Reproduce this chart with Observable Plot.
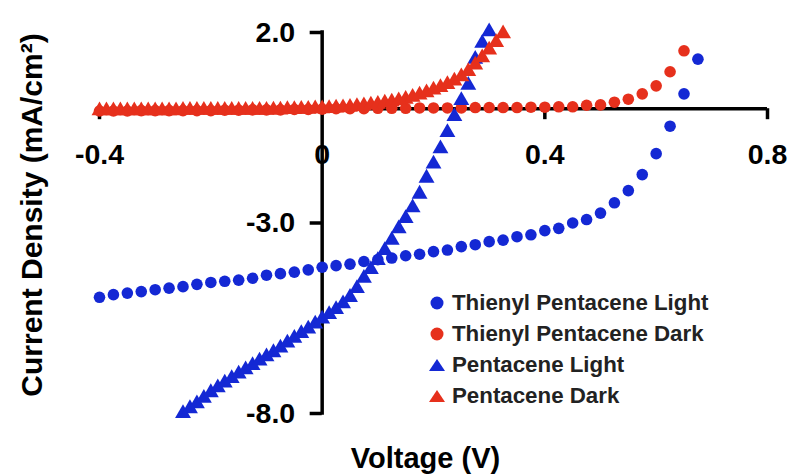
<!DOCTYPE html>
<html><head><meta charset="utf-8">
<script src="https://cdn.jsdelivr.net/npm/d3@7"></script>
<script src="https://cdn.jsdelivr.net/npm/@observablehq/plot@0.6"></script>
<style>
body{margin:0;background:#fff;font-family:"Liberation Sans",Arial,sans-serif;}
#wrap{position:relative;width:788px;height:474px;}
#legend{position:absolute;left:429px;top:287px;font-weight:bold;font-size:22.3px;color:#222;}
.row{display:flex;align-items:center;height:31px;}
.row svg{width:16px;height:16px;margin-right:7px;flex:none}
</style></head><body><div id="wrap"><div id="legend"></div></div>
<script>
// Voltage samples for the circle series (Thienyl Pentacene)
const circleV = [-0.4,-0.375,-0.35,-0.325,-0.3,-0.275,-0.25,-0.225,-0.2,-0.175,-0.15,-0.125,-0.1,-0.075,-0.05,-0.025,0,0.025,0.05,0.075,0.1,0.125,0.15,0.175,0.2,0.225,0.25,0.275,0.3,0.325,0.35,0.375,0.4,0.425,0.45,0.475,0.5,0.525,0.55,0.575,0.6,0.625,0.65,0.675];
const thienylLight = [-4.95,-4.88,-4.84,-4.80,-4.75,-4.71,-4.67,-4.61,-4.56,-4.53,-4.50,-4.45,-4.37,-4.33,-4.29,-4.23,-4.16,-4.12,-4.08,-4.01,-3.96,-3.92,-3.86,-3.82,-3.75,-3.71,-3.62,-3.57,-3.49,-3.45,-3.36,-3.31,-3.20,-3.14,-3.00,-2.91,-2.74,-2.47,-2.15,-1.73,-1.18,-0.46,0.39,1.30];
const thienylDark = [-0.06,-0.06,-0.06,-0.05,-0.05,-0.05,-0.05,-0.05,-0.05,-0.04,-0.04,-0.03,-0.03,-0.03,-0.02,-0.02,-0.01,0,0,0,0.01,0.01,0.01,0.02,0.02,0.02,0.02,0.03,0.03,0.03,0.03,0.04,0.04,0.05,0.05,0.09,0.10,0.17,0.25,0.39,0.60,0.97,1.52];

// Pentacene Light (blue triangles)
const pentLightV = [-0.25,-0.2375,-0.225,-0.2125,-0.2,-0.1875,-0.175,-0.1625,-0.15,-0.1375,-0.125,-0.1125,-0.1,-0.0875,-0.075,-0.0625,-0.05,-0.0375,-0.025,-0.0125,0,0.0125,0.025,0.0375,0.05,0.0625,0.075,0.0875,0.1,0.1125,0.125,0.1375,0.15,0.1625,0.175,0.1875,0.2,0.2125,0.225,0.2375,0.25,0.2625,0.275,0.2875,0.3];
const pentLight = [-8.00,-7.87,-7.74,-7.60,-7.45,-7.32,-7.20,-7.08,-6.96,-6.85,-6.74,-6.62,-6.51,-6.40,-6.28,-6.15,-6.02,-5.90,-5.78,-5.65,-5.52,-5.40,-5.27,-5.12,-4.95,-4.72,-4.45,-4.22,-3.98,-3.72,-3.45,-3.15,-2.88,-2.60,-2.24,-1.82,-1.45,-1.05,-0.62,-0.20,0.22,0.62,1.30,1.72,2.02];

// Pentacene Dark (red triangles)
const pentDarkV = [-0.4,-0.3875,-0.375,-0.3625,-0.35,-0.3375,-0.325,-0.3125,-0.3,-0.2875,-0.275,-0.2625,-0.25,-0.2375,-0.225,-0.2125,-0.2,-0.1875,-0.175,-0.1625,-0.15,-0.1375,-0.125,-0.1125,-0.1,-0.0875,-0.075,-0.0625,-0.05,-0.0375,-0.025,-0.0125,0,0.0125,0.025,0.0375,0.05,0.0625,0.075,0.0875,0.1,0.1125,0.125,0.1375,0.15,0.1625,0.175,0.1875,0.2,0.2125,0.225,0.2375,0.25,0.2625,0.275,0.2875,0.3,0.3125,0.325];
const pentDark = [-0.05,-0.05,-0.05,-0.05,-0.05,-0.05,-0.05,-0.05,-0.05,-0.05,-0.05,-0.05,-0.04,-0.04,-0.04,-0.04,-0.04,-0.04,-0.04,-0.04,-0.04,-0.04,-0.04,-0.04,-0.04,-0.03,-0.03,-0.02,-0.02,-0.01,-0.01,0,0,0.01,0.02,0.03,0.04,0.06,0.08,0.10,0.12,0.15,0.18,0.21,0.25,0.30,0.36,0.42,0.49,0.56,0.64,0.73,0.84,0.98,1.15,1.34,1.54,1.74,1.97];

const xTicks = [-0.4, 0, 0.4, 0.8];
const xTickLabels = ["-0.4", "0", "0.4", "0.8"];
const yTicks = [2, -3, -8];
const yTickLabels = ["2.0", "-3.0", "-8.0"];

const seriesNames = ["Thienyl Pentacene Light", "Thienyl Pentacene Dark", "Pentacene Light", "Pentacene Dark"];
const seriesColors = ["#1428d4", "#e6301c", "#1428d4", "#e6301c"];
const seriesSymbols = ["circle", "circle", "triangle", "triangle"];

const xLabel = "Voltage (V)";
const yLabel = "Current Density (mA/cm²)";

const toRows = (xs, ys) => xs.map((v, i) => ({v, j: ys[i]}));
const sets = [toRows(circleV, thienylLight), toRows(circleV.slice(0, thienylDark.length), thienylDark), toRows(pentLightV, pentLight), toRows(pentDarkV, pentDark)];
const markerR = [5.8, 5.8, 5.9, 5.9];

const axisW = 3.5;
const font = {fontFamily: "Liberation Sans, Arial, sans-serif", fontWeight: "bold"};

const chart = Plot.plot({
  width: 788, height: 474,
  marginLeft: 99, marginRight: 21, marginTop: 32, marginBottom: 61,
  style: {fontFamily: "Liberation Sans, Arial, sans-serif", background: "white"},
  x: {domain: [-0.4, 0.8], axis: null},
  y: {domain: [-8, 2], axis: null},
  marks: [
    Plot.ruleY([0], {x1: -0.4, x2: 0.8, stroke: "black", strokeWidth: axisW}),
    Plot.ruleX([0], {y1: -8, y2: 2, stroke: "black", strokeWidth: axisW, strokeLinecap: "square"}),
    Plot.ruleX(xTicks.filter(d => d !== 0), {x: d => d, y1: 0, y2: 0, insetBottom: -11, stroke: "black", strokeWidth: axisW}),
    Plot.ruleY(yTicks, {y: d => d, x1: 0, x2: 0, insetLeft: -12, stroke: "black", strokeWidth: axisW}),
    ...sets.map((rows, k) => Plot.dot(rows, {x: "v", y: "j", r: markerR[k], symbol: seriesSymbols[k], fill: seriesColors[k], stroke: "none"})),
    Plot.text(xTicks, {x: d => d, y: 0, text: (d, i) => xTickLabels[i], dy: 46, fontSize: 28.5, fill: "black", ...font}),
    Plot.text(yTicks, {x: 0, y: d => d, text: (d, i) => yTickLabels[i], dx: -27, textAnchor: "end", fontSize: 28.5, fill: "black", ...font}),
    Plot.text([xLabel], {frameAnchor: "bottom", lineAnchor: "middle", dx: -8, dy: 45, fontSize: 29, fill: "black", ...font}),
    Plot.text([yLabel], {frameAnchor: "left", textAnchor: "middle", lineAnchor: "middle", rotate: -90, dx: -67, dy: -8, fontSize: 30, fill: "black", ...font})
  ]
});
document.getElementById("wrap").prepend(chart);

const legend = document.getElementById("legend");
seriesNames.forEach((name, k) => {
  const row = document.createElement("div");
  row.className = "row";
  const shape = seriesSymbols[k] === "circle"
    ? `<circle cx="8" cy="8" r="6.5" fill="${seriesColors[k]}"/>`
    : `<polygon points="0,14 8,2 16,14" fill="${seriesColors[k]}"/>`;
  row.innerHTML = `<svg viewBox="0 0 16 16">${shape}</svg><span>${name}</span>`;
  legend.appendChild(row);
});
</script></body></html>
